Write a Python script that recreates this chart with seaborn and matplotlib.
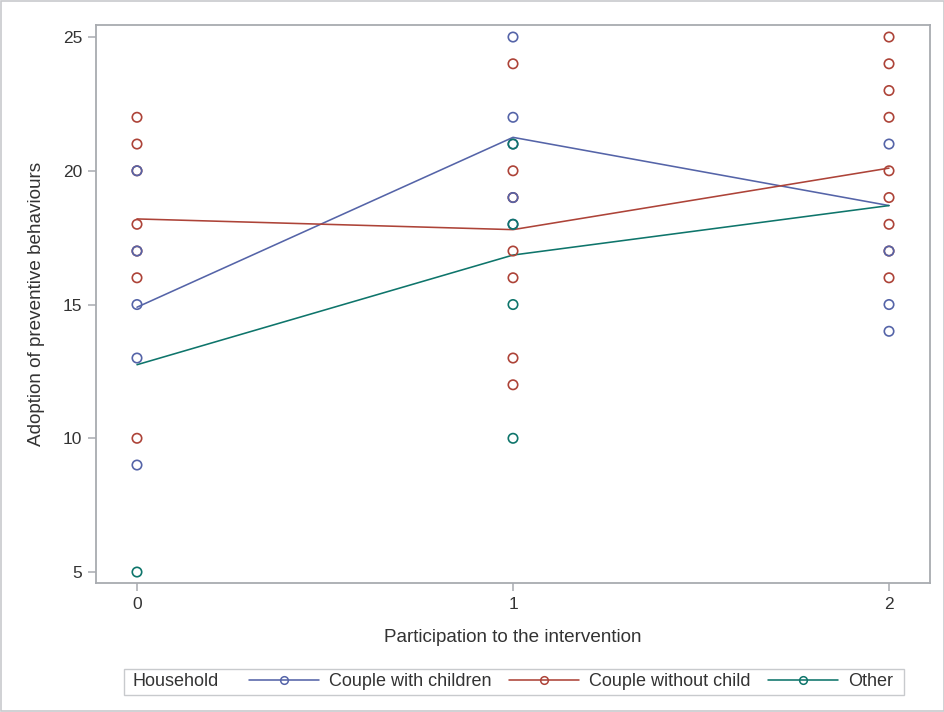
import pandas as pd
import matplotlib.pyplot as plt
import seaborn as sns
from matplotlib.lines import Line2D
from matplotlib.patches import Rectangle

# Werte
participation = [0, 1, 2]
households = ["Couple with children", "Couple without child", "Other"]
colors = ["#5564A8", "#AD4338", "#0E756B"]

children_x = [0, 0, 0, 0, 0, 1, 1, 1, 1, 1, 2, 2, 2, 2]
children_y = [20, 17, 15, 13, 9, 25, 22, 21, 19, 18, 21, 17, 15, 14]

nochild_x = [0, 0, 0, 0, 0, 0, 0, 1, 1, 1, 1, 1, 1, 1, 2, 2, 2, 2, 2, 2, 2, 2, 2]
nochild_y = [22, 21, 20, 18, 17, 16, 10, 24, 20, 19, 17, 16, 13, 12,
             25, 24, 23, 22, 20, 19, 18, 17, 16]

other_x = [0, 1, 1, 1, 1]
other_y = [5, 21, 18, 15, 10]

# Mittelwerte (Linien)
mean_children = [14.9, 21.25, 18.7]
mean_nochild = [18.2, 17.8, 20.1]
mean_other = [12.75, 16.85, 18.7]


def main():
    sns.set_theme(style="white")
    plt.rcParams["font.family"] = ["Liberation Sans", "DejaVu Sans"]

    fig = plt.figure(figsize=(9.45, 7.12), dpi=100)
    ax = fig.add_axes([96 / 945, 1 - 583 / 712, 834 / 945, 558 / 712])

    points = [
        (nochild_x, nochild_y, colors[1]),
        (children_x, children_y, colors[0]),
        (other_x, other_y, colors[2]),
    ]
    for xs, ys, col in points:
        sns.scatterplot(x=xs, y=ys, ax=ax, marker="o", s=46,
                        facecolors="none", edgecolor=col, linewidth=1.2,
                        zorder=3)

    means = [mean_children, mean_nochild, mean_other]
    for m, col in zip(means, colors):
        sns.lineplot(x=participation, y=m, ax=ax, color=col, lw=1.15, zorder=2)

    ax.set_xlim(-0.109, 2.109)
    ax.set_ylim(4.59, 25.45)
    ax.set_xticks(participation)
    ax.set_yticks([5, 10, 15, 20, 25])

    frame_col = "#A8ABB0"
    for sp in ax.spines.values():
        sp.set_color(frame_col)
        sp.set_linewidth(1.3)
    ax.tick_params(axis="both", direction="out", length=6, width=1.1,
                   color=frame_col, labelsize=12.5, labelcolor="#333333",
                   pad=4, left=True, bottom=True)

    ax.set_xlabel("Participation to the intervention", fontsize=13.6,
                  color="#333333", labelpad=12)
    ax.set_ylabel("Adoption of preventive behaviours", fontsize=13.6,
                  color="#333333", labelpad=13)

    # Legende
    handles = [Line2D([], [], color=c, lw=1.15, marker="o", markersize=5.5,
                      markerfacecolor="none", markeredgewidth=1.1)
               for c in colors]
    fig.legend(handles, households, loc="center left",
               bbox_to_anchor=(240 / 945, 1 - 682 / 712), ncol=3,
               frameon=False, fontsize=13, handlelength=3.9,
               handletextpad=0.55, columnspacing=0.95, borderpad=0,
               labelcolor="#333333")
    fig.text(132 / 945, 1 - 682 / 712, "Household", fontsize=13,
             color="#333333", va="center", ha="left")
    fig.patches.append(Rectangle((124 / 945, 1 - 695 / 712), 780 / 945,
                                 26 / 712, transform=fig.transFigure,
                                 fill=False, edgecolor="#C8CACD", lw=1))
    fig.patches.append(Rectangle((1 / 945, 1 / 712), 943 / 945, 710 / 712,
                                 transform=fig.transFigure, fill=False,
                                 edgecolor="#C8CACD", lw=1.2))

    fig.savefig("out.png", dpi=100)


if __name__ == "__main__":
    main()
